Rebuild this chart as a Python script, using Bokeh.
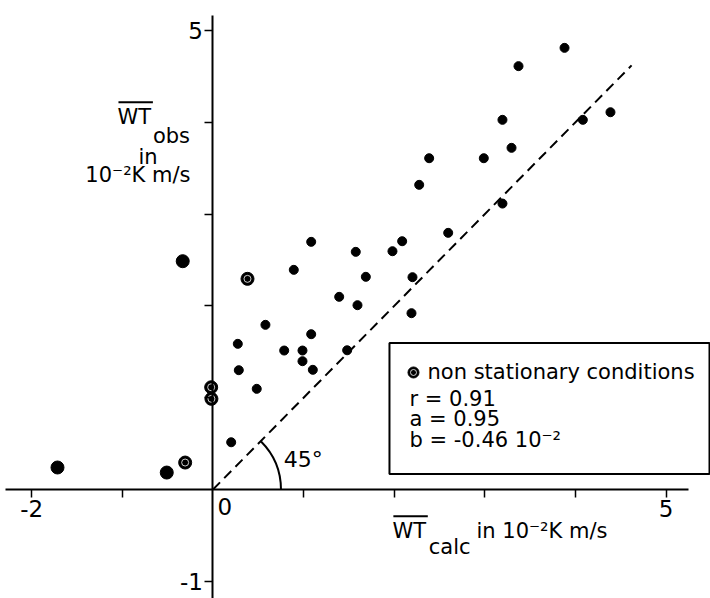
import numpy as np
from bokeh.plotting import figure
from bokeh.models import Range1d, LinearAxis, FixedTicker, Label
from bokeh.embed import file_html
from bokeh.resources import INLINE

# Kinematic heat flux, calculated vs observed (units of 10^-2 K m/s)
calc_stat = [1.084, 0.892, 1.576, 1.981, 2.088, 2.596, 1.687, 1.393, 1.595, 2.202,
             2.191, 0.579, 0.274, 1.084, 0.786, 0.988, 0.988, 1.102, 1.481, 0.285,
             0.483, 0.201, 3.880, 3.372, 3.195, 4.082, 4.387, 3.295, 2.386, 2.989,
             2.276, 3.195]
obs_stat = [2.698, 2.393, 2.589, 2.596, 2.705, 2.796, 2.317, 2.099, 2.008, 2.313,
            1.921, 1.794, 1.587, 1.692, 1.514, 1.514, 1.398, 1.304, 1.517, 1.300,
            1.097, 0.515, 4.811, 4.612, 4.027, 4.027, 4.110, 3.722, 3.609, 3.609,
            3.319, 3.115]

# runs drawn with the larger dot
calc_big = [-1.716, -0.510, -0.334]
obs_big = [0.240, 0.185, 2.487]

# non stationary conditions
calc_ns = [-0.307, -0.020, -0.017, 0.381]
obs_ns = [0.294, 1.114, 0.988, 2.295]

# 1:1 reference line
line_1to1 = [0.0, 4.62]

x_ticks = [-2, -1, 1, 2, 3, 4, 5]
x_tick_labels = {-2: "-2", 5: "5"}
y_ticks = [-1, 1, 2, 3, 4, 5]
y_tick_labels = {-1: "-1", 5: "5"}

stats = {"r": "0.91", "a": "0.95", "b": "-0.46 10\u207b\u00b2"}

FONT = "DejaVu Sans"
FS = "21px"
TICK_FS = "23px"

p = figure(width=710, height=598,
           x_range=Range1d(-2.345, 5.491), y_range=Range1d(-1.187, 5.327),
           x_axis_type=None, y_axis_type=None,
           toolbar_location=None, output_backend="svg", min_border=0)
p.outline_line_color = None


def text(x, y, s, align="left", baseline="middle", size=FS):
    p.add_layout(Label(x=x, y=y, text=s, text_font=FONT, text_font_size=size,
                       text_color="black", text_align=align, text_baseline=baseline))


# axes crossing at the origin
xax = LinearAxis(fixed_location=0, ticker=FixedTicker(ticks=x_ticks), bounds=(-2.29, 5.25))
xax.major_label_overrides = {t: x_tick_labels.get(t, "") for t in x_ticks}
yax = LinearAxis(fixed_location=0, ticker=FixedTicker(ticks=y_ticks), bounds=(-1.19, 5.16))
yax.major_label_overrides = {t: y_tick_labels.get(t, "") for t in y_ticks}
for ax in (xax, yax):
    ax.axis_line_width = 2
    ax.axis_line_color = "black"
    ax.major_tick_in = 0
    ax.major_tick_out = 8
    ax.major_tick_line_width = 1.5
    ax.minor_tick_in = 0
    ax.minor_tick_out = 0
    ax.major_label_text_font = FONT
    ax.major_label_text_font_size = TICK_FS
    ax.major_label_text_color = "black"
    ax.major_label_standoff = 2
p.add_layout(xax, "below")
p.add_layout(yax, "left")

text(0.13, -0.09, "0", align="center", baseline="top", size=TICK_FS)

# 45 degree line and angle marker
p.line(line_1to1, line_1to1, line_color="black", line_width=2, line_dash="10 6")
p.arc(x=0, y=0, radius=68, radius_units="screen", start_angle=0, end_angle=np.pi / 4,
      line_color="black", line_width=2)
text(0.78, 0.33, "45\u00b0", size="22px")

# data points
p.scatter(calc_stat, obs_stat, size=9, color="black")
p.scatter(calc_big, obs_big, size=13, color="black")
p.scatter(calc_ns, obs_ns, size=13, color="black")
p.scatter(calc_ns, obs_ns, size=7, fill_color=None, line_color="white", line_width=0.8)

# legend box with regression statistics
p.quad(left=1.948, right=5.48, bottom=0.170, top=1.597, fill_color=None,
       line_color="black", line_width=2)
p.scatter([2.213], [1.275], size=11, color="black")
p.scatter([2.213], [1.275], size=6, fill_color=None, line_color="white", line_width=0.8)
text(2.368, 1.275, "non stationary conditions")
for i, (k, v) in enumerate(stats.items()):
    text(2.169, 0.991 - i * 0.225, f"{k} = {v}")


# axis titles: overlined WT with a subscript
def title_parts(x, y, sub, dx_sub, dy_sub):
    text(x, y, "WT")
    p.line([x + 0.01, x + 0.39], [y + 0.155, y + 0.155], line_color="black", line_width=2)
    text(x + dx_sub, y + dy_sub, sub)


title_parts(-1.053, 4.063, "obs", 0.39, -0.215)
text(-0.822, 3.62, "in")
text(-0.248, 3.43, "10\u207b\u00b2K m/s", align="right")

title_parts(1.981, -0.447, "calc", 0.40, -0.18)
text(2.908, -0.447, "in 10\u207b\u00b2K m/s")

open("out.html", "w").write(file_html(p, INLINE))
